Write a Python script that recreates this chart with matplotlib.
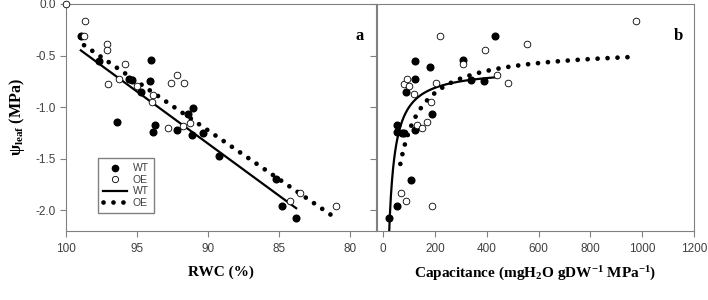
import numpy as np
import matplotlib
matplotlib.use('Agg')
from matplotlib import pyplot as plt
from matplotlib.lines import Line2D

plt.rcParams['mathtext.fontset'] = 'custom'
plt.rcParams['mathtext.rm'] = 'Liberation Serif'
plt.rcParams['mathtext.bf'] = 'Liberation Serif:bold'
plt.rcParams['mathtext.it'] = 'Liberation Serif:italic'

# panel a: leaf water potential vs RWC
rwc_wt = [98.96, 97.68, 94.04, 96.43, 95.6, 95.37, 94.08, 94.72, 91.06, 91.39,
          93.71, 93.85, 92.21, 91.15, 90.38, 89.27, 85.21, 84.81, 83.82]
psi_wt_a = [-0.31, -0.55, -0.54, -1.14, -0.73, -0.74, -0.75, -0.85, -1.01, -1.07,
            -1.17, -1.24, -1.22, -1.27, -1.25, -1.47, -1.70, -1.96, -2.07]
rwc_oe = [100.0, 98.66, 98.71, 97.09, 97.13, 97.06, 96.27, 95.85, 95.02, 93.85,
          93.94, 92.63, 92.21, 91.67, 92.84, 91.78, 91.27, 84.27, 83.52, 80.99]
psi_oe_a = [0.0, -0.17, -0.31, -0.39, -0.45, -0.78, -0.73, -0.58, -0.80, -0.88,
            -0.95, -0.77, -0.69, -0.77, -1.20, -1.18, -1.15, -1.91, -1.83, -1.96]

# linear fits psi = s*rwc + b, and the RWC range each is drawn over
wt_lin = (0.101, -0.45 - 0.101 * 98.96)
oe_lin = (0.0947, -0.40 - 0.0947 * 98.73)
wt_lin_range = (98.96, 83.82)
oe_lin_range = (98.73, 80.99)

# panel b: leaf water potential vs capacitance
cap_wt = [24, 55, 108, 55, 53, 74, 80, 87, 122, 124, 124, 183, 188, 309, 341, 390, 431]
psi_wt_b = [-2.07, -1.96, -1.71, -1.17, -1.24, -1.25, -1.25, -0.85, -0.55, -0.73,
            -1.22, -0.61, -1.07, -0.54, -0.74, -0.75, -0.31]
cap_oe = [976, 218, 394, 556, 310, 440, 481, 82, 92, 101, 119, 203, 185, 133, 151,
          170, 69, 88, 188]
psi_oe_b = [-0.17, -0.31, -0.45, -0.39, -0.58, -0.69, -0.77, -0.78, -0.73, -0.80,
            -0.87, -0.77, -0.95, -1.17, -1.20, -1.14, -1.83, -1.91, -1.96]

# hyperbolic fits psi = a + b / (cap - c)
wt_hyp = (-0.624, -37.8, 0.0)
oe_hyp = (-0.4135, -98.9, -20.0)
wt_hyp_range = (22, 440)
oe_hyp_range = (67, 954)

fig = plt.figure(figsize=(7.08, 3.0), dpi=100)
ax1 = fig.add_axes([0.0932, 0.23, 0.438, 0.757])
ax2 = fig.add_axes([0.5325, 0.23, 0.448, 0.757])

tick_col = '#404040'
spine_col = '#808080'
dot_ls = (0, (0.01, 2.1))
dot_lw = 3.4

# panel a
ax1.plot(rwc_wt, psi_wt_a, 'o', color='black', ms=4.8, zorder=3)
ax1.plot(rwc_oe, psi_oe_a, 'o', mfc='white', mec='black', mew=0.6, ms=4.8,
         zorder=3, clip_on=False)
x = np.linspace(*wt_lin_range, 50)
ax1.plot(x, wt_lin[0] * x + wt_lin[1], '-', color='black', lw=1.6)
x = np.linspace(*oe_lin_range, 50)
ax1.plot(x, oe_lin[0] * x + oe_lin[1], color='black', lw=dot_lw, ls=dot_ls,
         dash_capstyle='round')
ax1.set_xlim(100, 78.2)
ax1.set_xticks([100, 95, 90, 85, 80])
ax1.text(0.935, 0.84, 'a', transform=ax1.transAxes, fontsize=12,
         fontweight='bold', family='Liberation Serif')

# panel b
ax2.plot(cap_wt, psi_wt_b, 'o', color='black', ms=4.8, zorder=3)
ax2.plot(cap_oe, psi_oe_b, 'o', mfc='white', mec='black', mew=0.6, ms=4.8, zorder=3)
x = np.linspace(*wt_hyp_range, 200)
ax2.plot(x, wt_hyp[0] + wt_hyp[1] / (x - wt_hyp[2]), '-', color='black', lw=1.6)
x = np.linspace(*oe_hyp_range, 400)
ax2.plot(x, oe_hyp[0] + oe_hyp[1] / (x - oe_hyp[2]), color='black', lw=dot_lw,
         ls=dot_ls, dash_capstyle='round')
ax2.set_xlim(-23, 1200)
ax2.set_xticks([0, 200, 400, 600, 800, 1000, 1200])
ax2.text(0.935, 0.84, 'b', transform=ax2.transAxes, fontsize=12,
         fontweight='bold', family='Liberation Serif')

for ax in (ax1, ax2):
    ax.set_ylim(-2.2, 0.0)
    for s in ax.spines.values():
        s.set_color(spine_col)
        s.set_linewidth(0.8)
    ax.tick_params(axis='x', direction='out', length=4, color=spine_col,
                   labelsize=8.5, labelcolor=tick_col, pad=5)
    ax.tick_params(axis='y', color=spine_col, length=4)
    for lab in ax.get_xticklabels():
        lab.set_family('Liberation Sans')

ax1.set_yticks([0.0, -0.5, -1.0, -1.5, -2.0])
ax1.set_yticklabels(['0.0', '-0.5', '-1.0', '-1.5', '-2.0'], family='Liberation Sans')
ax1.tick_params(axis='y', direction='out', left=True, right=True,
                labelsize=8.5, labelcolor=tick_col)
# inward ticks on the right of panel a
for t in ax1.yaxis.get_major_ticks():
    t.tick2line.set_marker(matplotlib.lines.TICKLEFT)
ax2.tick_params(axis='y', left=False, labelleft=False)

ax1.set_ylabel('ψ$_\\mathbf{leaf}$ (MPa)', fontsize=11.5, fontweight='bold',
               family='Liberation Serif', labelpad=6)
ax1.set_xlabel('RWC (%)', fontsize=11, fontweight='bold',
               family='Liberation Serif', labelpad=7)
ax2.set_xlabel(r'Capacitance (mgH$_\mathbf{2}$O gDW$^\mathbf{-1}$ MPa$^\mathbf{-1}$)',
               fontsize=11, fontweight='bold', family='Liberation Serif', labelpad=7)

handles = [
    Line2D([], [], marker='o', ls='none', color='black', ms=4.5),
    Line2D([], [], marker='o', ls='none', mfc='white', mec='black', mew=0.6, ms=4.5),
    Line2D([], [], color='black', lw=1.6),
    Line2D([], [], color='black', lw=dot_lw, ls=dot_ls, dash_capstyle='round'),
]
leg = ax1.legend(handles, ['WT', 'OE', 'WT', 'OE'], loc='upper left',
                 bbox_to_anchor=(0.087, 0.344), fancybox=False, framealpha=1,
                 edgecolor=spine_col, handlelength=2.3,
                 handletextpad=0.5, labelspacing=0.15, borderpad=0.5,
                 prop={'family': 'Liberation Sans', 'size': 7.5})
for t in leg.get_texts():
    t.set_color(tick_col)

fig.savefig('out.png', dpi=100)
